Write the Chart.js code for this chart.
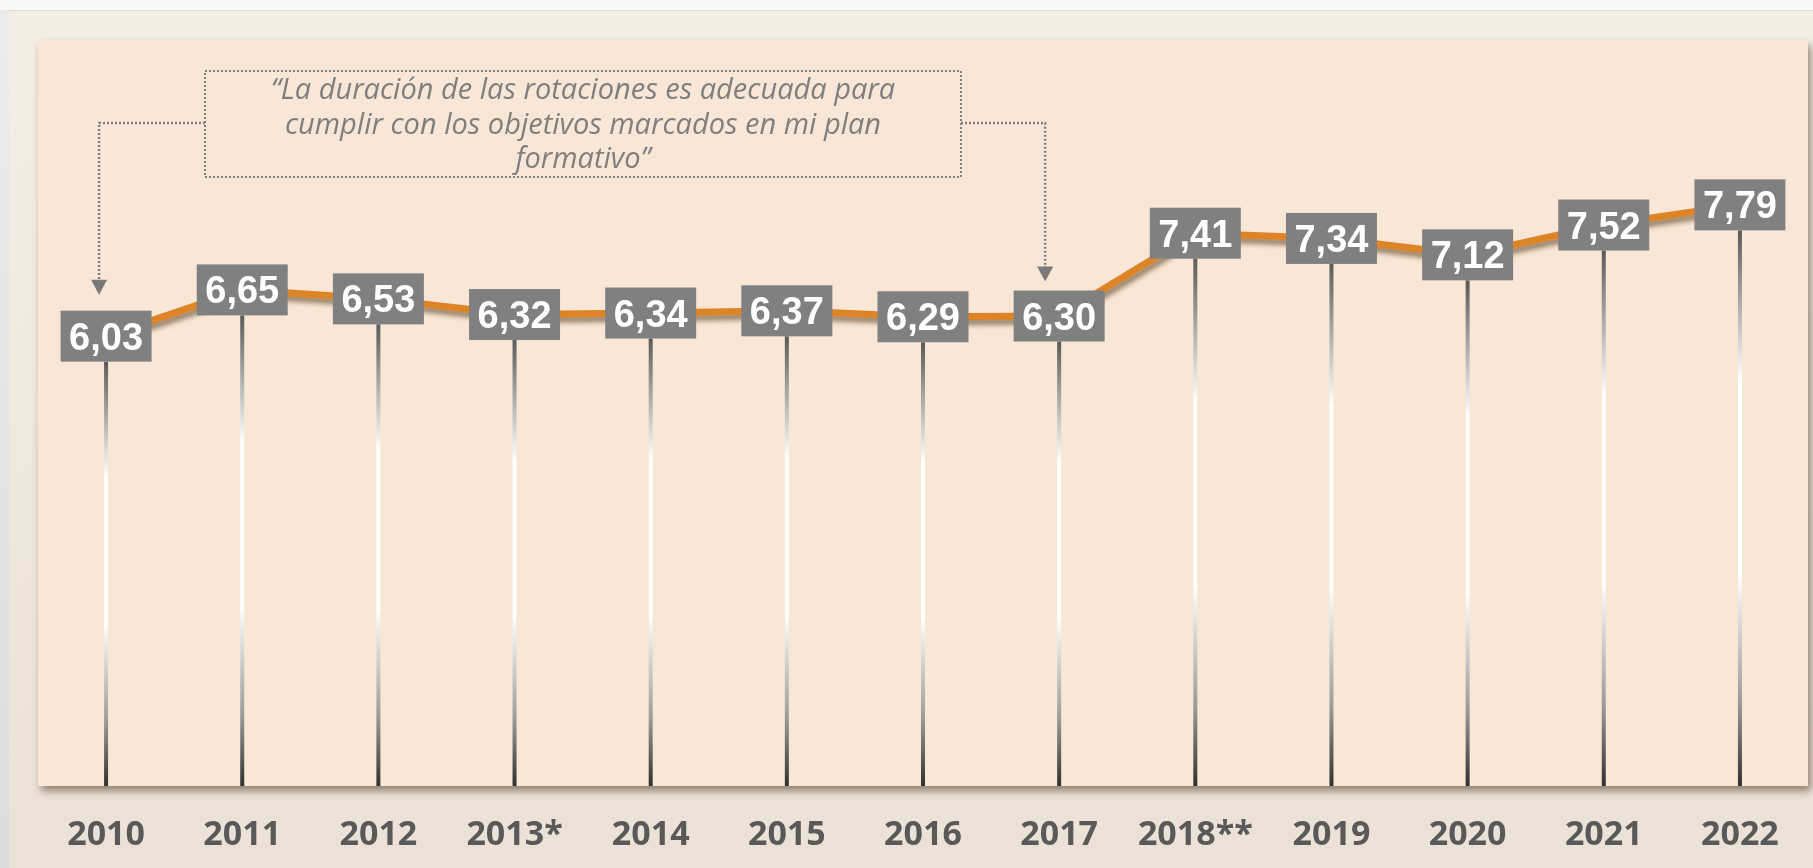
<!DOCTYPE html>
<html>
<head>
<meta charset="utf-8">
<script src="https://cdn.jsdelivr.net/npm/chart.js@4.4.1/dist/chart.umd.min.js"></script>
<style>
  html, body { margin: 0; padding: 0; background: #f7f7f7; }
  #wrap { width: 1813px; height: 868px; position: relative; }
  canvas { display: block; }
</style>
</head>
<body>
<div id="wrap"><canvas id="c" width="1813" height="868"></canvas></div>
<script>
// ---- data ----
const categories = ['2010', '2011', '2012', '2013*', '2014', '2015', '2016', '2017', '2018**', '2019', '2020', '2021', '2022'];
const values = [6.03, 6.65, 6.53, 6.32, 6.34, 6.37, 6.29, 6.30, 7.41, 7.34, 7.12, 7.52, 7.79];
const yMin = 0;
const yMax = 10;
const quoteLines = [
  '\u201cLa duración de las rotaciones es adecuada para',
  'cumplir con los objetivos marcados en mi plan',
  'formativo\u201d'
];
const arrowTargets = [0, 7]; // category indices the quote arrows point to

const fmt = v => v.toFixed(2).replace('.', ',');

const BOX_W = 91, BOX_H = 51;

const bgPlugin = {
  id: 'bg',
  beforeDraw(chart) {
    const ctx = chart.ctx, a = chart.chartArea;
    const W = chart.width, H = chart.height;
    ctx.save();
    ctx.fillStyle = '#f8f8f8';
    ctx.fillRect(0, 0, W, H);
    let g = ctx.createLinearGradient(0, 0, 0, H);
    g.addColorStop(0, '#ececec');
    g.addColorStop(1, '#dcdcdc');
    ctx.fillStyle = g;
    ctx.fillRect(0, 10, 9, H - 10);
    ctx.fillStyle = '#dedede';
    ctx.fillRect(8, 10, W - 8, 1);
    g = ctx.createLinearGradient(0, 11, 0, H);
    g.addColorStop(0, '#f6eee5');
    g.addColorStop(1, '#ebe1d6');
    ctx.fillStyle = g;
    ctx.fillRect(9, 11, W - 9, H - 11);
    ctx.shadowColor = 'rgba(70,50,30,0.55)';
    ctx.shadowBlur = 8;
    ctx.shadowOffsetX = 3;
    ctx.shadowOffsetY = 5;
    ctx.fillStyle = '#f8e7d6';
    ctx.fillRect(a.left, a.top, a.right - a.left, a.bottom - a.top);
    ctx.restore();
  },
  beforeDatasetsDraw(chart) {
    const ctx = chart.ctx, a = chart.chartArea;
    const xs = chart.scales.x, ys = chart.scales.y;
    ctx.save();
    values.forEach((v, i) => {
      const x = xs.getPixelForValue(i);
      const top = ys.getPixelForValue(v) + BOX_H / 2;
      const g = ctx.createLinearGradient(0, top, 0, a.bottom);
      g.addColorStop(0, '#5a5a5a');
      g.addColorStop(0.27, '#ffffff');
      g.addColorStop(0.62, '#ffffff');
      g.addColorStop(0.85, '#9a9a9a');
      g.addColorStop(1, '#303030');
      ctx.fillStyle = g;
      ctx.fillRect(x - 2, top, 4, a.bottom - top);
    });
    ctx.restore();
  },
  beforeDatasetDraw(chart) {
    const ctx = chart.ctx;
    ctx.save();
    ctx.shadowColor = 'rgba(90,60,30,0.6)';
    ctx.shadowBlur = 5;
    ctx.shadowOffsetX = 2;
    ctx.shadowOffsetY = 5;
  },
  afterDatasetDraw(chart) {
    chart.ctx.restore();
  },
  afterDatasetsDraw(chart) {
    const ctx = chart.ctx;
    const xs = chart.scales.x, ys = chart.scales.y;
    ctx.save();
    ctx.font = 'bold 38px "Liberation Sans", Arial, sans-serif';
    ctx.textAlign = 'center';
    ctx.textBaseline = 'alphabetic';
    values.forEach((v, i) => {
      const x = xs.getPixelForValue(i);
      const y = ys.getPixelForValue(v);
      ctx.fillStyle = '#808080';
      ctx.fillRect(x - BOX_W / 2, y - BOX_H / 2, BOX_W, BOX_H);
      ctx.fillStyle = '#ffffff';
      ctx.fillText(fmt(v), x, y + 13.5);
    });

    const bx = 205, by = 71, bw = 756, bh = 106;
    ctx.strokeStyle = '#808080';
    ctx.lineWidth = 2;
    ctx.setLineDash([2, 2]);
    ctx.strokeRect(bx, by, bw, bh);
    const midY = 123;
    const lx = xs.getPixelForValue(arrowTargets[0]) - 7;
    const ltip = ys.getPixelForValue(values[arrowTargets[0]]) - BOX_H / 2 - 16;
    ctx.lineWidth = 2.5;
    ctx.beginPath();
    ctx.moveTo(bx, midY);
    ctx.lineTo(lx, midY);
    ctx.lineTo(lx, ltip - 12);
    ctx.stroke();
    const rx = xs.getPixelForValue(arrowTargets[1]) - 14;
    const rtip = ys.getPixelForValue(values[arrowTargets[1]]) - BOX_H / 2 - 9;
    ctx.beginPath();
    ctx.moveTo(bx + bw, midY);
    ctx.lineTo(rx, midY);
    ctx.lineTo(rx, rtip - 12);
    ctx.stroke();
    ctx.setLineDash([]);
    ctx.fillStyle = '#7a7a7a';
    [[lx, ltip], [rx, rtip]].forEach(([x, t]) => {
      ctx.beginPath();
      ctx.moveTo(x - 8, t - 15);
      ctx.lineTo(x + 8, t - 15);
      ctx.lineTo(x, t);
      ctx.closePath();
      ctx.fill();
    });
    ctx.fillStyle = '#7f7f7f';
    ctx.font = 'italic 29px "Open Sans", sans-serif';
    ctx.textAlign = 'center';
    const cx = bx + bw / 2;
    quoteLines.forEach((t, i) => {
      ctx.fillText(t, cx, 99 + i * 34.5);
    });
    ctx.restore();
  }
};

new Chart(document.getElementById('c'), {
  type: 'line',
  data: {
    labels: categories,
    datasets: [{
      data: values,
      borderColor: '#dd8427',
      borderWidth: 7,
      pointRadius: 0,
      tension: 0,
      fill: false
    }]
  },
  options: {
    responsive: false,
    animation: false,
    layout: { padding: { left: 38, top: 40, right: 5, bottom: 0 } },
    plugins: { legend: { display: false }, tooltip: { enabled: false } },
    scales: {
      x: {
        offset: true,
        grid: { display: false, drawTicks: false },
        border: { display: false },
        afterFit(scale) { scale.height = 82; },
        ticks: {
          padding: 29,
          color: '#595959',
          font: { family: '"Open Sans", sans-serif', weight: 'bold', size: 34 },
          maxRotation: 0,
          autoSkip: false
        }
      },
      y: {
        display: false,
        min: yMin,
        max: yMax
      }
    }
  },
  plugins: [bgPlugin]
});
</script>
</body>
</html>
